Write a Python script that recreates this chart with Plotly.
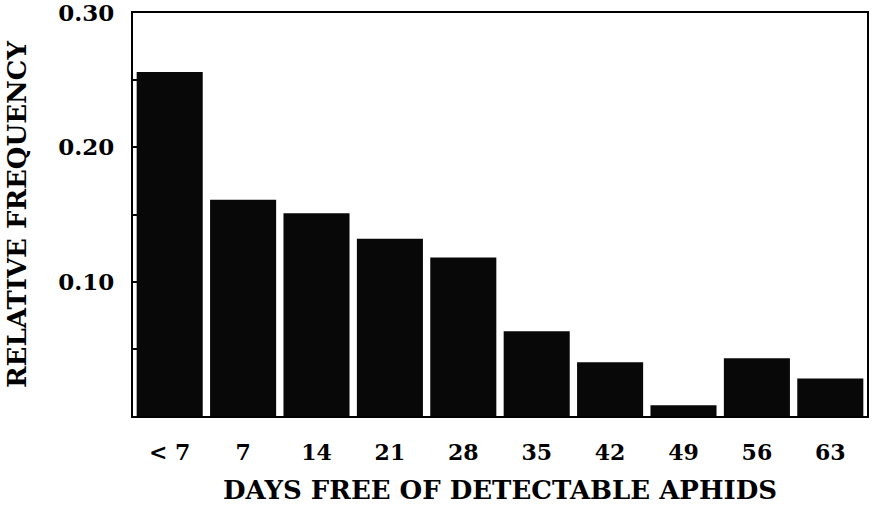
import plotly.graph_objects as go

categories = ["< 7", "7", "14", "21", "28", "35", "42", "49", "56", "63"]
rel_freq = [0.256, 0.161, 0.151, 0.132, 0.118, 0.063, 0.040, 0.008, 0.043, 0.028]
y_tick_vals = [0.10, 0.20, 0.30]
y_tick_text = ["0.10", "0.20", "0.30"]

FONT = "DejaVu Serif"

fig = go.Figure(
    go.Bar(
        x=categories,
        y=rel_freq,
        marker=dict(color="#080808", line=dict(width=0)),
        width=0.9,
    )
)

fig.update_layout(
    width=873,
    height=506,
    margin=dict(l=133, r=6, t=13, b=90),
    paper_bgcolor="white",
    plot_bgcolor="white",
    showlegend=False,
    font=dict(family=FONT, color="black"),
)

fig.update_xaxes(
    type="category",
    range=[-0.5, 9.5],
    automargin=False,
    showline=True,
    linecolor="black",
    linewidth=2,
    mirror=True,
    ticks="",
    showgrid=False,
    tickfont=dict(family=FONT, size=22, color="black", weight="bold"),
    ticklabelstandoff=16,
    title=dict(
        text="DAYS FREE OF DETECTABLE APHIDS",
        font=dict(family=FONT, size=26, color="black", weight="bold"),
        standoff=16,
    ),
)

fig.update_yaxes(
    range=[0, 0.30],
    automargin=False,
    showline=True,
    linecolor="black",
    linewidth=2,
    mirror=True,
    showgrid=False,
    zeroline=False,
    tickvals=y_tick_vals,
    ticktext=y_tick_text,
    ticklabeloverflow="allow",
    ticks="inside",
    ticklen=4,
    tickwidth=1.5,
    tickcolor="black",
    minor=dict(dtick=0.05, ticks="inside", ticklen=4, tickwidth=1.5, tickcolor="black"),
    tickfont=dict(family=FONT, size=23, color="black", weight="bold"),
    ticklabelstandoff=12,
    title=dict(
        text="RELATIVE FREQUENCY",
        font=dict(family=FONT, size=26, color="black", weight="bold"),
        standoff=24,
    ),
)

fig.write_html("out.html")
